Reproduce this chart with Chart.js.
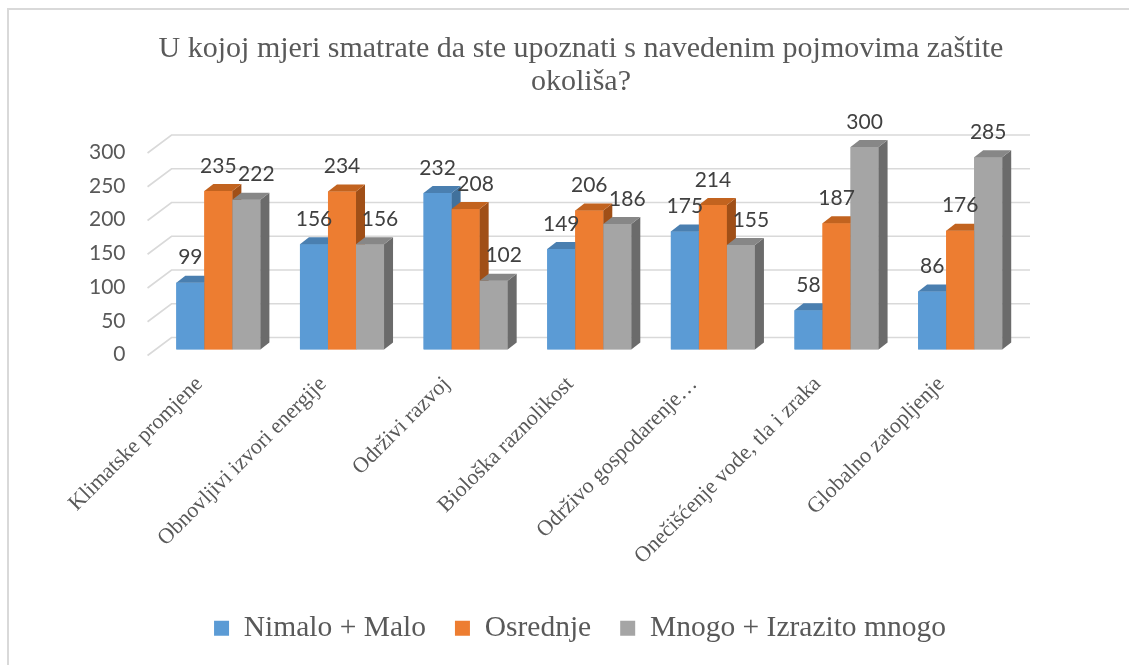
<!DOCTYPE html>
<html>
<head>
<meta charset="utf-8">
<script src="https://cdn.jsdelivr.net/npm/chart.js@4.4.0/dist/chart.umd.min.js"></script>
<style>
  body { margin: 0; background: #fff; }
  #wrap { position: relative; width: 1129px; height: 665px; overflow: hidden; }
  #frame { position: absolute; left: 7px; top: 8px; width: 1140px; height: 680px; border: 2px solid #d9d9d9; }
  canvas { position: absolute; left: 0; top: 0; }
</style>
</head>
<body>
<div id="wrap">
  <div id="frame"></div>
  <canvas id="myChart" width="1129" height="665"></canvas>
</div>
<script>
var categories = ["Klimatske promjene", "Obnovljivi izvori energije", "Održivi razvoj", "Biološka raznolikost",
                  "Održivo gospodarenje…", "Onečišćenje vode, tla i zraka", "Globalno zatopljenje"];
var seriesNames = ["Nimalo + Malo", "Osrednje", "Mnogo + Izrazito mnogo"];
var nimaloMalo = [99, 156, 232, 149, 175, 58, 86];
var osrednje = [235, 234, 208, 206, 214, 187, 176];
var mnogo = [222, 156, 102, 186, 155, 300, 285];
var yTicks = [0, 50, 100, 150, 200, 250, 300];

var frontColors = ['#5b9bd5', '#ed7d31', '#a5a5a5'];
var topColors = ['#4a7fb0', '#c2631f', '#878787'];
var sideColors = ['#41719c', '#a04f17', '#6b6b6b'];

var serif = "'Liberation Serif', 'Times New Roman', serif";

// depth of the fake 3d bars
var DX = 9, DY = 7;

var threeD = {
    id: 'threeD',
    afterLayout: function(chart){
        // title and legend sit a bit right of centre in the original
        chart.legend.left += 40;
        chart.legend.right += 40;
        chart.titleBlock.left += 41;
        chart.titleBlock.right += 41;
    },
    beforeDatasetsDraw: function(chart){
        var ctx = chart.ctx;
        var ys = chart.scales.y;
        var area = chart.chartArea;
        ctx.save();
        ctx.strokeStyle = '#d9d9d9';
        ctx.lineWidth = 1.6;
        yTicks.forEach(function(v){
            var y = ys.getPixelForValue(v);
            ctx.beginPath();
            ctx.moveTo(area.left - 9, y + 6);
            ctx.lineTo(area.left + 15, y - 12);
            ctx.lineTo(area.right + 8, y - 12);
            ctx.stroke();
        });
        ctx.restore();
    },
    afterDatasetsDraw: function(chart){
        var ctx = chart.ctx;
        var sets = chart.data.datasets;
        ctx.save();
        for (var i = 0; i < categories.length; i++){
            for (var d = 0; d < sets.length; d++){
                var bar = chart.getDatasetMeta(d).data[i];
                var w = bar.width;
                var x0 = bar.x - w / 2, x1 = bar.x + w / 2;
                var top = bar.y, base = bar.base;
                // front
                ctx.fillStyle = frontColors[d];
                ctx.fillRect(x0, top, w, base - top);
                // side
                ctx.fillStyle = sideColors[d];
                ctx.beginPath();
                ctx.moveTo(x1, top);
                ctx.lineTo(x1 + DX, top - DY);
                ctx.lineTo(x1 + DX, base - DY);
                ctx.lineTo(x1, base);
                ctx.closePath();
                ctx.fill();
                // top
                ctx.fillStyle = topColors[d];
                ctx.beginPath();
                ctx.moveTo(x0, top);
                ctx.lineTo(x1, top);
                ctx.lineTo(x1 + DX, top - DY);
                ctx.lineTo(x0 + DX, top - DY);
                ctx.closePath();
                ctx.fill();
            }
        }
        // value labels, nudged right when the bar is lower than its left neighbour
        ctx.font = '21px Lato';
        ctx.fillStyle = '#404040';
        ctx.textAlign = 'center';
        ctx.textBaseline = 'middle';
        for (var d2 = 0; d2 < sets.length; d2++){
            var meta = chart.getDatasetMeta(d2);
            meta.data.forEach(function(bar, j){
                var v = sets[d2].data[j];
                var shift = (d2 > 0 && v < sets[d2 - 1].data[j]) ? 10 : 0;
                ctx.fillText(v, bar.x + shift, bar.y - 25);
            });
        }
        ctx.restore();
    }
};

var ctx = document.getElementById('myChart').getContext('2d');
var chart = new Chart(ctx, {
    type: 'bar',
    data: {
        labels: categories,
        datasets: [
            { label: seriesNames[0], data: nimaloMalo, backgroundColor: frontColors[0] },
            { label: seriesNames[1], data: osrednje, backgroundColor: frontColors[1] },
            { label: seriesNames[2], data: mnogo, backgroundColor: frontColors[2] }
        ]
    },
    options: {
        responsive: false,
        animation: false,
        categoryPercentage: 0.68,
        barPercentage: 1,
        layout: { padding: { left: 58, right: 107, top: 0, bottom: 12 } },
        plugins: {
            title: {
                display: true,
                text: ['U kojoj mjeri smatrate da ste upoznati s navedenim pojmovima zaštite', 'okoliša?'],
                color: '#595959',
                font: { family: serif, size: 30, weight: 'normal', lineHeight: 1.1 },
                padding: { top: 33, bottom: 48 }
            },
            legend: {
                position: 'bottom',
                labels: {
                    color: '#595959',
                    font: { family: serif, size: 29.5 },
                    boxWidth: 15,
                    boxHeight: 15,
                    padding: 29
                }
            },
            tooltip: { enabled: false }
        },
        scales: {
            x: {
                grid: { display: false, drawTicks: false },
                border: { display: false },
                ticks: {
                    color: '#595959',
                    font: { family: serif, size: 22 },
                    minRotation: 45,
                    maxRotation: 45,
                    padding: 22,
                    labelOffset: -19
                },
                afterFit: function(scale){
                    scale.paddingLeft = 0;
                    scale.height = 235;
                }
            },
            y: {
                min: 0,
                max: 300,
                grid: { display: false, drawTicks: false },
                border: { display: false },
                ticks: {
                    stepSize: 50,
                    color: '#595959',
                    font: { family: 'Lato', size: 21 },
                    padding: 31,
                    labelOffset: 5
                }
            }
        }
    },
    plugins: [threeD]
});
</script>
</body>
</html>
